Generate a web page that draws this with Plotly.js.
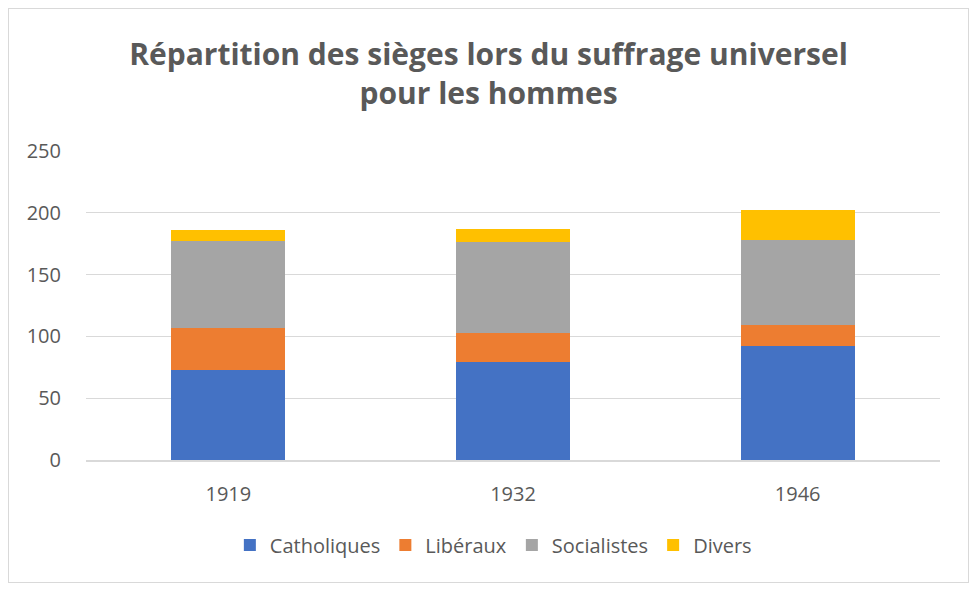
<!DOCTYPE html>
<html>
<head>
<meta charset="utf-8">
<script src="https://cdn.plot.ly/plotly-3.0.1.min.js"></script>
<style>
    body { margin: 0; background: #fff; }
    #chart { width: 977px; height: 593px; }
    #frame { position: absolute; left: 8px; top: 8px; width: 959px; height: 573px; border: 1px solid #d9d9d9; pointer-events: none; }
</style>
</head>
<body>
<div id="chart"></div>
<div id="frame"></div>
<script>
// sièges par année d'élection
const years = ['1919', '1932', '1946'];
const catholiques = [73, 79, 92];
const liberaux = [34, 24, 17];
const socialistes = [70, 73, 69];
const divers = [9, 11, 24];

const font = '"Open Sans", "Liberation Sans", sans-serif';

function bar(name, y, color) {
    return {
        x: years,
        y: y,
        name: name,
        type: 'bar',
        marker: {color: color},
        hoverinfo: 'name+y',
    };
}

let traces = [
    bar('Catholiques', catholiques, '#4472C4'),
    bar('Libéraux', liberaux, '#ED7D31'),
    bar('Socialistes', socialistes, '#A5A5A5'),
    bar('Divers', divers, '#FFC000'),
];

let layout = {
    barmode: 'stack',
    bargap: 0.6,
    width: 977,
    height: 593,
    margin: {l: 86, r: 37, t: 151, b: 133},
    paper_bgcolor: '#fff',
    plot_bgcolor: '#fff',
    font: {family: font, color: '#595959', size: 20},
    title: {
        text: 'Répartition des sièges lors du suffrage universel<br>pour les hommes',
        font: {family: font, size: 30, color: '#595959', weight: 'bold'},
        x: 0.5,
        xanchor: 'center',
        y: 0.89,
        yanchor: 'middle',
    },
    xaxis: {
        type: 'category',
        showline: true,
        linecolor: '#d9d9d9',
        linewidth: 1.5,
        ticks: 'outside',
        ticklen: 15,
        tickcolor: 'rgba(0,0,0,0)',
        tickfont: {size: 20, color: '#595959'},
    },
    yaxis: {
        range: [0, 250],
        dtick: 50,
        gridcolor: '#d9d9d9',
        gridwidth: 1.3,
        zeroline: false,
        ticks: 'outside',
        ticklen: 20,
        tickcolor: 'rgba(0,0,0,0)',
        tickfont: {size: 20, color: '#595959'},
    },
    legend: {
        orientation: 'h',
        x: 0.477,
        xanchor: 'center',
        y: -0.275,
        yanchor: 'middle',
        font: {size: 20, color: '#595959'},
        traceorder: 'normal',
    },
};

Plotly.newPlot('chart', traces, layout, {displayModeBar: false});
</script>
</body>
</html>
